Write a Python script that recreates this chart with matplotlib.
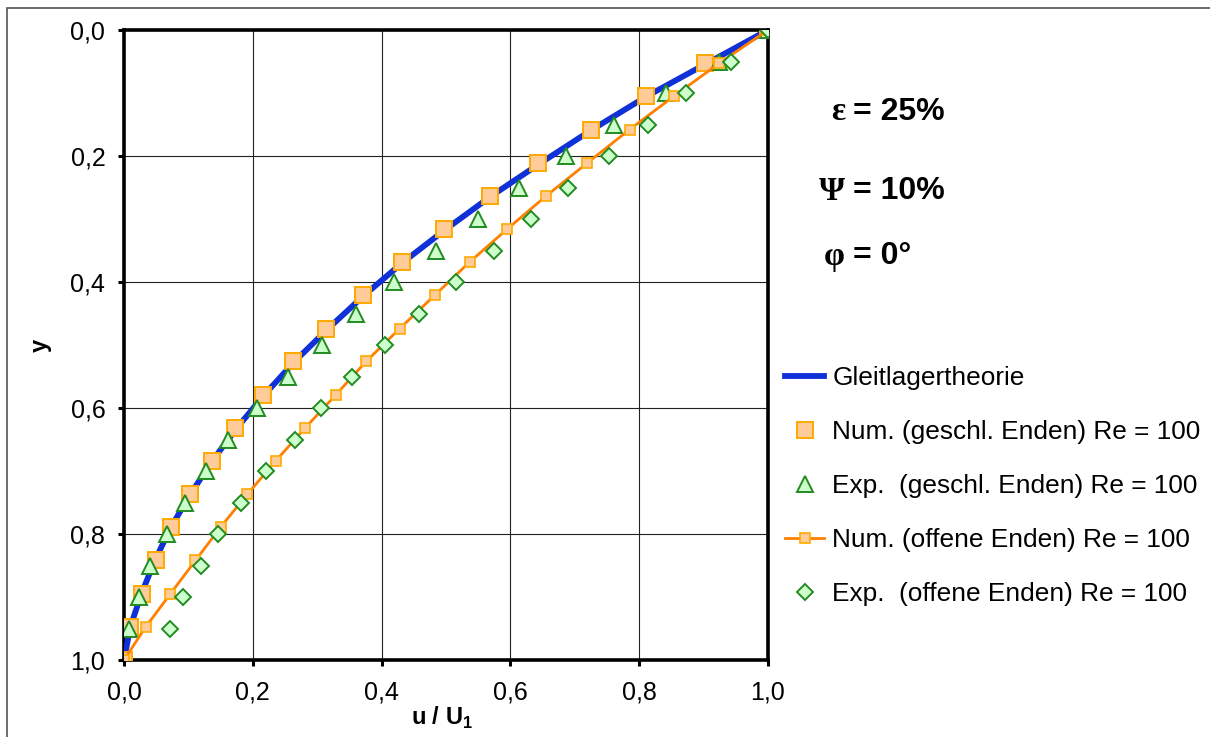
import matplotlib
matplotlib.use("Agg")
import matplotlib.pyplot as plt
from matplotlib.patches import Rectangle

plt.rcParams.update(
    {
        "font.family": ["Liberation Sans", "DejaVu Sans"],
        "mathtext.fontset": "custom",
        "mathtext.rm": "Liberation Sans",
        "mathtext.bf": "Liberation Sans:bold",
    }
)

# y positions (gap height coordinate)
y_num = [0.0, 0.053, 0.105, 0.158, 0.211, 0.263, 0.316, 0.368, 0.421, 0.474,
         0.526, 0.579, 0.632, 0.684, 0.737, 0.789, 0.842, 0.895, 0.947, 1.0]
y_exp = [0.0, 0.05, 0.10, 0.15, 0.20, 0.25, 0.30, 0.35, 0.40, 0.45,
         0.50, 0.55, 0.60, 0.65, 0.70, 0.75, 0.80, 0.85, 0.90, 0.95]

# u / U1 values
u_theory = [1.0, 0.905, 0.812, 0.727, 0.647, 0.571, 0.500, 0.434, 0.373, 0.317,
            0.265, 0.218, 0.175, 0.137, 0.103, 0.073, 0.048, 0.027, 0.010, 0.0]
u_num_closed = [1.0, 0.902, 0.810, 0.725, 0.643, 0.568, 0.497, 0.431, 0.371, 0.314,
                0.262, 0.216, 0.173, 0.137, 0.103, 0.0725, 0.049, 0.028, 0.010, 0.0]
u_exp_closed = [1.0, 0.924, 0.841, 0.761, 0.686, 0.614, 0.550, 0.484, 0.420, 0.360,
                0.308, 0.255, 0.2065, 0.1615, 0.127, 0.094, 0.066, 0.040, 0.023, 0.008]
u_num_open = [1.0, 0.924, 0.854, 0.785, 0.7195, 0.656, 0.595, 0.537, 0.4825, 0.428,
              0.376, 0.329, 0.281, 0.2355, 0.1915, 0.150, 0.111, 0.072, 0.034, 0.0]
u_exp_open = [1.0, 0.942, 0.873, 0.814, 0.753, 0.690, 0.6325, 0.574, 0.516, 0.458,
              0.406, 0.354, 0.3065, 0.265, 0.221, 0.181, 0.146, 0.119, 0.092, 0.071]

tick_values = [0.0, 0.2, 0.4, 0.6, 0.8, 1.0]
tick_labels = ["0,0", "0,2", "0,4", "0,6", "0,8", "1,0"]

labels = [
    "Gleitlagertheorie",
    "Num. (geschl. Enden) Re = 100",
    "Exp.  (geschl. Enden) Re = 100",
    "Num. (offene Enden) Re = 100",
    "Exp.  (offene Enden) Re = 100",
]

fig = plt.figure(figsize=(12.1, 7.37), dpi=100)
ax = fig.add_axes([124 / 1210, 1 - 660 / 737, 644 / 1210, 630 / 737])

ax.plot(u_theory, y_num, color="#1030d8", lw=4.2, label=labels[0], zorder=3)
ax.plot(u_num_closed, y_num, ls="none", marker="s", ms=12, mfc="#ffcc99",
        mec="#ffaa00", mew=1.4, label=labels[1], zorder=4)
ax.plot(u_exp_closed, y_exp, ls="none", marker="^", ms=12, mfc="#ccffcc",
        mec="#228b22", mew=1.4, label=labels[2], zorder=5)
ax.plot(u_num_open, y_num, color="#ff7f00", lw=2.0, marker="s", ms=7.2,
        mfc="#ffcc99", mec="#ffaa00", mew=1.2, label=labels[3], zorder=6)
ax.plot(u_exp_open, y_exp, ls="none", marker="D", ms=8.3, mfc="#ccffcc",
        mec="#228b22", mew=1.4, label=labels[4], zorder=7)

ax.set_xlim(0, 1)
ax.set_ylim(1, 0)
ax.set_xticks(tick_values, tick_labels)
ax.set_yticks(tick_values, tick_labels)
ax.grid(True, color="#222222", lw=0.8)
ax.set_axisbelow(True)
for sp in ax.spines.values():
    sp.set_linewidth(2.6)
    sp.set_color("black")
ax.tick_params(axis="both", direction="out", length=4.5, width=2.2,
               labelsize=18, colors="black")
ax.tick_params(axis="x", pad=10)
ax.tick_params(axis="y", pad=9)

fig.text(40 / 1210, 1 - 345 / 737, "y", rotation=90, ha="center", va="center",
         fontsize=17, fontweight="bold")
fig.text(442 / 1210, 1 - 718 / 737, r"u / U$_{\mathbf{1}}$", ha="center",
         va="center", fontsize=17, fontweight="bold")

params = [("ε", "= 25%", 112), ("Ψ", "= 10%", 191), ("φ", "= 0°", 256)]
for greek, rest, ypx in params:
    fig.text(845 / 1210, 1 - ypx / 737, greek, ha="right", va="center",
             fontsize=24, fontweight="bold", family="Liberation Serif")
    fig.text(853 / 1210, 1 - ypx / 737, rest, ha="left", va="center",
             fontsize=23, fontweight="bold")

leg = ax.legend(loc="upper left", bbox_to_anchor=(785 / 1210, 1 - 366 / 737),
                bbox_transform=fig.transFigure, frameon=False, fontsize=18.9,
                handlelength=1.5, handletextpad=0.3, labelspacing=1.14,
                borderpad=0, borderaxespad=0)

fig.patches.append(Rectangle((7 / 1210, -0.1), 1.2, 1.0 - 8 / 737 + 0.1,
                             transform=fig.transFigure, fill=False,
                             edgecolor="#555555", lw=1.2, zorder=0))

fig.savefig("out.png", dpi=100)
